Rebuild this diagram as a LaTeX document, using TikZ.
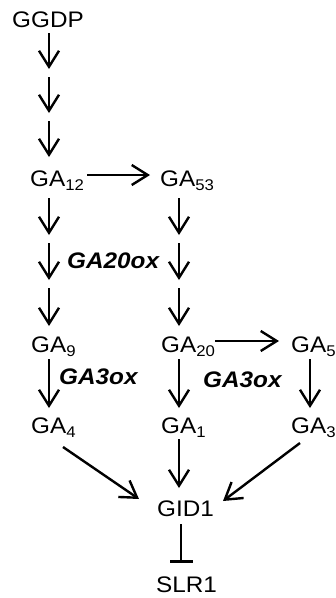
\documentclass[tikz,border=0pt]{standalone}
\usepackage{fontspec}
\setmainfont{Liberation Sans}[FakeStretch=1.08]
\usetikzlibrary{arrows.meta}

% GA with a lowered, smaller index
\newcommand\ga[1]{GA\raisebox{-4.5pt}{\fontsize{15.5}{16}\selectfont #1}}

\tikzset{
  lbl/.style={inner sep=0pt, anchor=base west, font=\fontsize{22.5}{23}\selectfont},
  enz/.style={lbl, font=\fontsize{22.5}{23}\selectfont\bfseries\itshape},
  conv/.style={line width=2.4pt, -{Straight Barb[length=16pt,width=20pt,line width=2.4pt]}},
  inhib/.style={line width=2.4pt, -{Bar[width=23pt,line width=2.6pt]}}
}

\begin{document}
\begin{tikzpicture}[x=1pt,y=-1pt]
\useasboundingbox (0,0) rectangle (336,598);

% metabolites
\node[lbl] (ggdp) at (12,27) {GGDP};
\node[lbl] (ga12) at (30,186) {\ga{12}};
\node[lbl] (ga53) at (160,186) {\ga{53}};
\node[lbl] (ga9)  at (31,352) {\ga{9}};
\node[lbl] (ga20) at (161,352) {\ga{20}};
\node[lbl] (ga5)  at (291,352) {\ga{5}};
\node[lbl] (ga4)  at (31,433) {\ga{4}};
\node[lbl] (ga1)  at (161,433) {\ga{1}};
\node[lbl] (ga3)  at (291,433) {\ga{3}};
\node[lbl] (gid1) at (157,516) {GID1};
\node[lbl] (slr1) at (156,592) {SLR1};

% enzymes
\node[enz] (ox20)  at (67,268) {GA20ox};
\node[enz] (ox3a)  at (59,384) {GA3ox};
\node[enz] (ox3b)  at (203,387) {GA3ox};

% arrow end points of the multi-step chains
\coordinate (a1) at (49,33);  \coordinate (a2) at (49,69);
\coordinate (a3) at (49,77);  \coordinate (a4) at (49,113);
\coordinate (a5) at (49,121); \coordinate (a6) at (49,157);
\coordinate (b1) at (49,198); \coordinate (b2) at (49,235);
\coordinate (b3) at (49,243); \coordinate (b4) at (49,280);
\coordinate (b5) at (49,288); \coordinate (b6) at (49,326);
\coordinate (c1) at (179,198); \coordinate (c2) at (179,235);
\coordinate (c3) at (179,243); \coordinate (c4) at (179,280);
\coordinate (c5) at (179,288); \coordinate (c6) at (179,326);
% side branches
\coordinate (h1) at (87,175);  \coordinate (h2) at (150,175);
\coordinate (h3) at (215,341); \coordinate (h4) at (279,341);
% 3-oxidation steps
\coordinate (d1) at (49,359);  \coordinate (d2) at (49,408);
\coordinate (e1) at (179,359); \coordinate (e2) at (179,408);
\coordinate (f1) at (310,359); \coordinate (f2) at (310,408);
% perception
\coordinate (p1) at (63,447);  \coordinate (p2) at (139,499);
\coordinate (q1) at (179,439); \coordinate (q2) at (179,488);
\coordinate (r1) at (300,443); \coordinate (r2) at (223,501);
\coordinate (s1) at (181,524); \coordinate (s2) at (181,563);

\draw[conv] (a1) -- (a2);
\draw[conv] (a3) -- (a4);
\draw[conv] (a5) -- (a6);
\draw[conv] (b1) -- (b2);
\draw[conv] (b3) -- (b4);
\draw[conv] (b5) -- (b6);
\draw[conv] (c1) -- (c2);
\draw[conv] (c3) -- (c4);
\draw[conv] (c5) -- (c6);
\draw[conv] (h1) -- (h2);
\draw[conv] (h3) -- (h4);
\draw[conv] (d1) -- (d2);
\draw[conv] (e1) -- (e2);
\draw[conv] (f1) -- (f2);
\draw[conv] (p1) -- (p2);
\draw[conv] (q1) -- (q2);
\draw[conv] (r1) -- (r2);
\draw[inhib] (s1) -- (s2);
\end{tikzpicture}
\end{document}
